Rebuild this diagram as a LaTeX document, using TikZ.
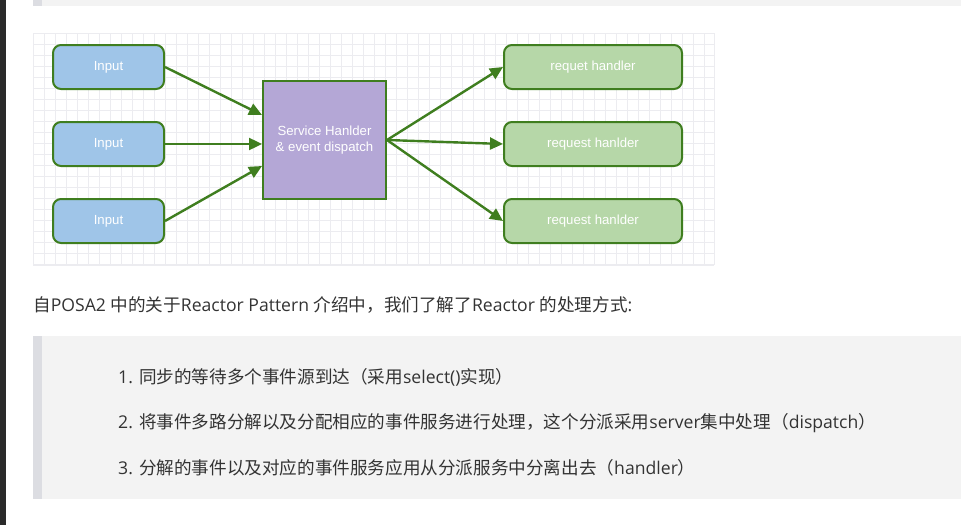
\documentclass[tikz,border=0pt]{standalone}
\usepackage{fontspec}
\setmainfont{Liberation Sans}
\newfontfamily\cjk{Noto Sans CJK SC}
\newfontfamily\lat{Open Sans}
\usetikzlibrary{arrows.meta}
\definecolor{gridc}{HTML}{ECECF0}
\definecolor{edgeg}{HTML}{3F7E1F}
\definecolor{inblue}{HTML}{9FC5E8}
\definecolor{outgreen}{HTML}{B6D7A8}
\definecolor{ctrpurple}{HTML}{B4A7D6}
\definecolor{quotebg}{HTML}{F3F3F3}
\definecolor{quotebar}{HTML}{DCDDE2}
\definecolor{txt}{HTML}{333333}
\definecolor{darkstrip}{HTML}{2A2A2A}
\newcommand\zh[1]{{\cjk #1}}
\tikzset{
  boxbase/.style={draw=edgeg, line width=2pt, text=white, font=\fontsize{13.2}{16}\selectfont, align=center, inner sep=0pt},
  inbox/.style={boxbase, fill=inblue, rounded corners=8pt, minimum width=111pt, minimum height=44pt},
  outbox/.style={boxbase, fill=outgreen, rounded corners=8pt, minimum width=178pt, minimum height=44pt},
  ctrbox/.style={boxbase, fill=ctrpurple, minimum width=123pt, minimum height=118pt},
  arr/.style={draw=edgeg, line width=2.4pt, -{Triangle[length=13pt,width=12pt]}},
  para/.style={anchor=west, inner sep=0pt, text=txt, font=\lat\fontsize{17.6}{20}\selectfont},
  gridline/.style={draw=gridc, line width=0.8pt},
}
\begin{document}
\begin{tikzpicture}[x=1pt,y=-1pt]
\useasboundingbox (0,0) rectangle (961,525);
% dark strip left
\fill[darkstrip] (0,0) rectangle (6,525);
% top quote remnant
\fill[quotebg] (33,0) rectangle (961,6);
\fill[quotebar] (33,0) rectangle (42,6);
% grid background
\foreach \gx in {0,...,61} {\draw[gridline] (33+11*\gx,33) -- (33+11*\gx,265);}
\draw[gridline] (714,33) -- (714,265);
\foreach \gy in {0,...,21} {\draw[gridline] (33,33+11*\gy) -- (714,33+11*\gy);}
\draw[gridline] (33,265) -- (714,265);
% nodes
\node[inbox] (in1) at (108.5,67) {Input};
\node[inbox] (in2) at (108.5,144) {Input};
\node[inbox] (in3) at (108.5,221) {Input};
\node[ctrbox] (ctr) at (324.5,140) {Service Hanlder\\\& event dispatch};
\node[outbox] (out1) at (593,67) {requet handler};
\node[outbox] (out2) at (593,144) {request hanlder};
\node[outbox] (out3) at (593,221) {request hanlder};
% connectors
\draw[arr] (in1.east) -- ([yshift=25pt]ctr.west);
\draw[arr] (in2.east) -- (ctr.west |- in2.east);
\draw[arr] (in3.east) -- ([yshift=-26pt]ctr.west);
\draw[arr] (ctr.east) -- (out1.west);
\draw[arr] (ctr.east) -- (out2.west);
\draw[arr] (ctr.east) -- (out3.west);
% paragraph
\node[para] (p1) at (33,305) {\zh{自}POSA2 \zh{中的关于}Reactor Pattern \zh{介绍中，我们了解了}Reactor \zh{的处理方式}:};
% blockquote
\fill[quotebg] (33,336) rectangle (961,499);
\fill[quotebar] (33,336) rectangle (42,499);
\node[para] (l1) at (118,377) {1. \zh{同步的等待多个事件源到达（采用}select()\zh{实现）}};
\node[para] (l2) at (118,423) {2. \zh{将事件多路分解以及分配相应的事件服务进行处理，这个分派采用}server\zh{集中处理（}dispatch\zh{）}};
\node[para] (l3) at (118,468) {3. \zh{分解的事件以及对应的事件服务应用从分派服务中分离出去（}handler\zh{）}};
\end{tikzpicture}
\end{document}
